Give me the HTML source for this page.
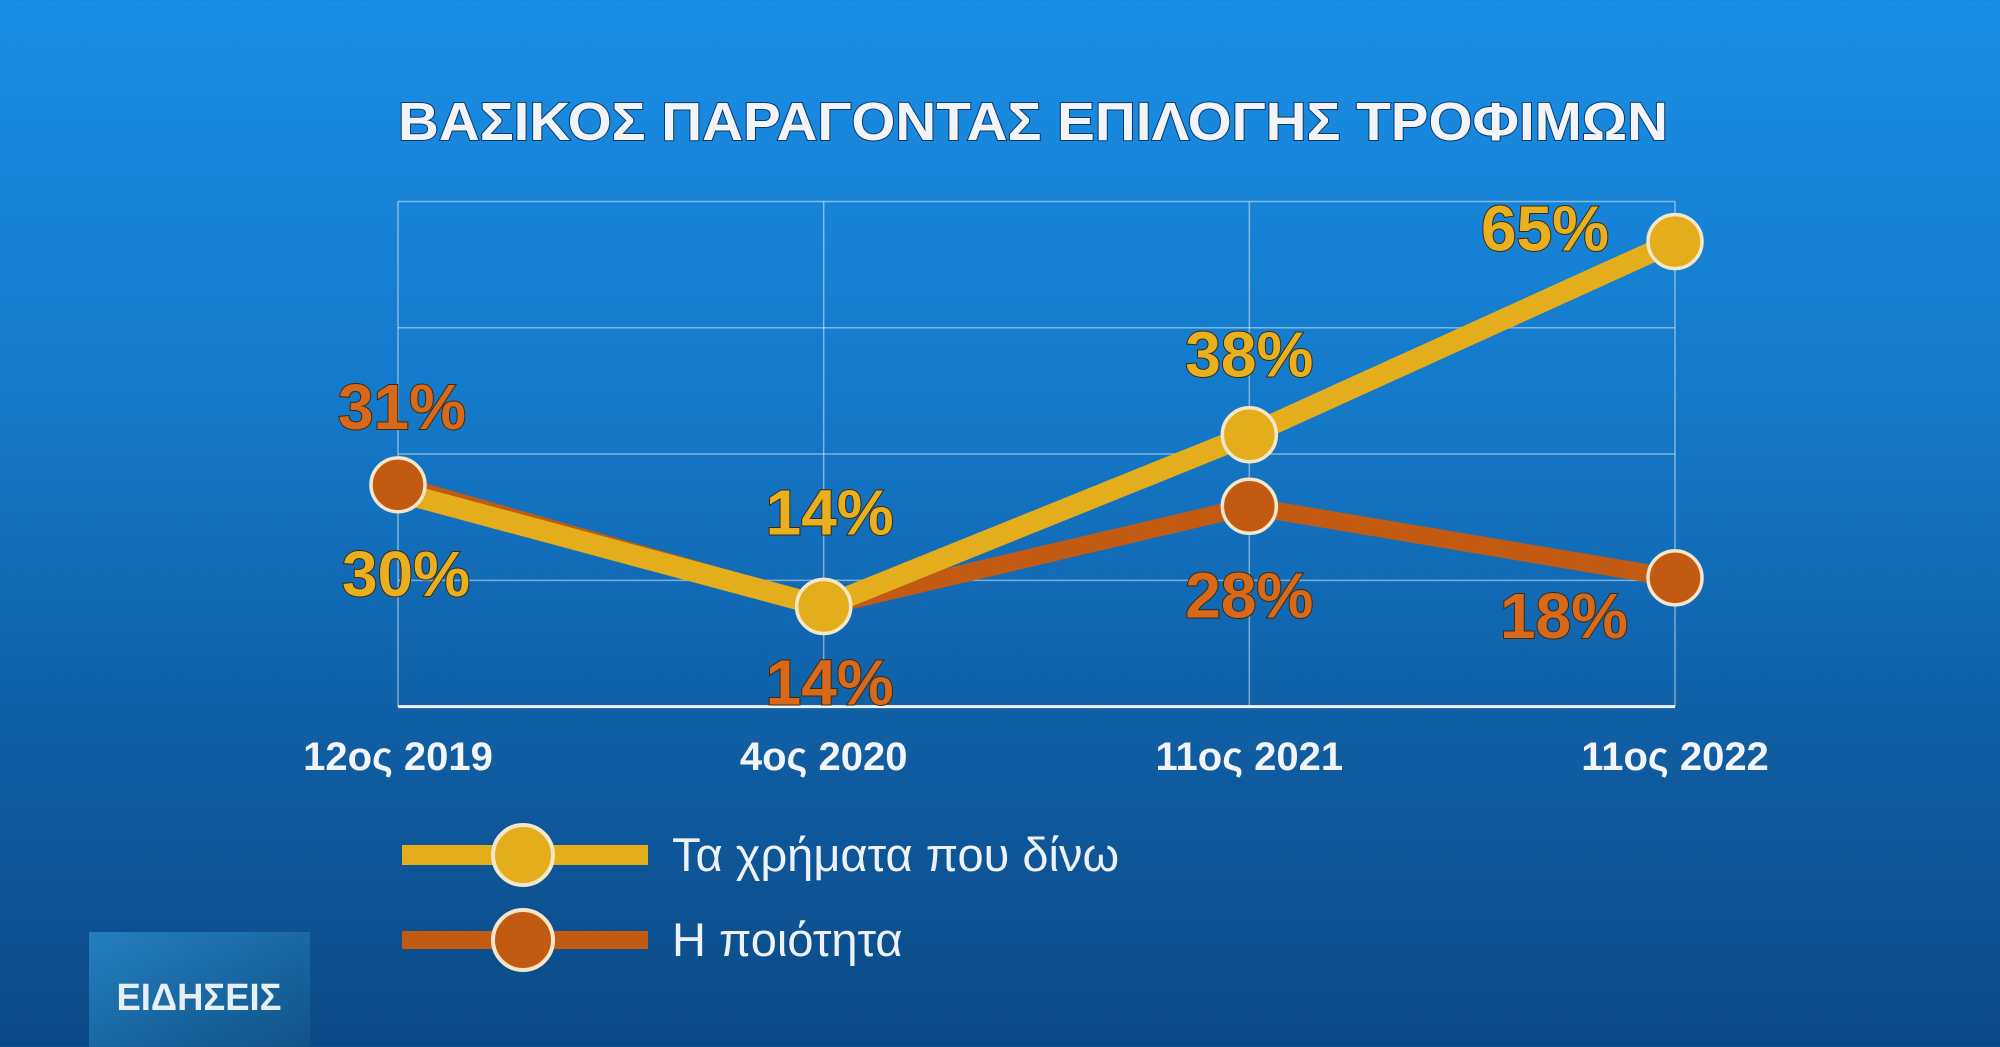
<!DOCTYPE html>
<html><head><meta charset="utf-8"><style>
html,body{margin:0;padding:0;width:2000px;height:1047px;overflow:hidden}
body{background:linear-gradient(180deg,#1a8fe6 0%,#1478c8 40%,#0f5a9e 75%,#0c4a86 100%);font-family:"Liberation Sans","DejaVu Sans",sans-serif}
</style></head><body>
<svg width="2000" height="1047" id="svg">
<text x="1033" y="140" text-anchor="middle" font-size="54" font-weight="bold" fill="#f2f4f8" textLength="1270" lengthAdjust="spacingAndGlyphs" style="paint-order:stroke" stroke="#0a3a70" stroke-width="2">ΒΑΣΙΚΟΣ ΠΑΡΑΓΟΝΤΑΣ  ΕΠΙΛΟΓΗΣ ΤΡΟΦΙΜΩΝ</text>
<g id="grid"></g><g id="lines"></g><g id="labels"></g>
<g>
<g>
<rect x="402" y="845" width="246" height="20" fill="#e4ad1c"/>
<circle cx="523" cy="855" r="30" fill="#e4ad1c" stroke="#f4e6c8" stroke-width="4"/>
<text x="672" y="871" font-size="47" fill="#eef2f8">Τα χρήματα που δίνω</text></g>
<g>
<rect x="402" y="931" width="246" height="18" fill="#c25a12"/>
<circle cx="523" cy="940" r="30" fill="#c25a12" stroke="#f4e6c8" stroke-width="4"/>
<text x="672" y="956" font-size="47" fill="#eef2f8">Η ποιότητα</text></g>
</g>
<g>
<rect x="89" y="932" width="221" height="115" fill="#1b6fae"/>
<rect x="89" y="932" width="221" height="115" fill="url(#lg)"/>
<text x="199" y="1010" text-anchor="middle" font-size="38" font-weight="bold" fill="#e6eef6" textLength="165" lengthAdjust="spacingAndGlyphs">ΕΙΔΗΣΕΙΣ</text>
</g>
<defs><linearGradient id="lg" x1="0" y1="0" x2="1" y2="1"><stop offset="0" stop-color="#2a8ac8" stop-opacity="0.6"/><stop offset="1" stop-color="#0a3f70" stop-opacity="0.6"/></linearGradient></defs>
</svg>
<script>
const categories=["12ος 2019","4ος 2020","11ος 2021","11ος 2022"];
const moneyValues=[30,14,38,65];
const qualityValues=[31,14,28,18];
const moneyLabels=["30%","14%","38%","65%"];
const qualityLabels=["31%","14%","28%","18%"];
const yMax=70.6;
const NS="http://www.w3.org/2000/svg";
const L=398,R=1675,T=201.5,B=706.6;
const xs=i=>L+i*(R-L)/(categories.length-1);
const ys=v=>B-v/yMax*(B-T);
function mk(tag,attrs,parent){const e=document.createElementNS(NS,tag);for(const k in attrs)e.setAttribute(k,attrs[k]);document.getElementById(parent).appendChild(e);return e;}
const g='grid';
for(let k=1;k<=4;k++){const y=B-k*(B-T)/4;
const e=mk('line',{x1:L,x2:R,y1:y,y2:y,stroke:'rgba(255,255,255,0.45)','stroke-width':1.5},g);

}
categories.forEach((c,i)=>{
const e=mk('line',{x1:xs(i),x2:xs(i),y1:T,y2:B,stroke:'rgba(255,255,255,0.45)','stroke-width':1.5},g);


const t=mk('text',{x:xs(i),y:770,'text-anchor':'middle','font-size':40,'font-weight':'bold',fill:'#f2f4f8'},g);
t.textContent=c;

});
const ax=mk('line',{x1:L,x2:R,y1:B,y2:B,stroke:'#f2f4f8','stroke-width':3},g);


function series(vals,color,w,name){
const p=mk('polyline',{points:vals.map((v,i)=>xs(i)+','+ys(v)).join(' '),fill:'none',stroke:color,'stroke-width':w,'stroke-linejoin':'miter'},'lines');

}
function marker(v,i,color,name){
const c=mk('circle',{cx:xs(i),cy:ys(v),r:27,fill:color,stroke:'#f4e6c8','stroke-width':3.5},'lines');

}
series(qualityValues,'#c25a12',18,'quality');
series(moneyValues,'#e4ad1c',21,'money');
moneyValues.forEach((v,i)=>{ if(Math.abs(qualityValues[i]-v)>3) marker(v,i,'#e4ad1c','money'); });
qualityValues.forEach((v,i)=>marker(v,i,'#c25a12','quality'));
moneyValues.forEach((v,i)=>{ if(qualityValues[i]===v) marker(v,i,'#e4ad1c','money'); });
const moneyOff=[[8,82],[6,-94],[0,-80],[-130,-13]];
const qualityOff=[[4,-78],[6,76],[0,89],[-111,38]];
function labels(vals,txt,off,color,name){vals.forEach((v,i)=>{
const t=mk('text',{x:xs(i)+off[i][0],y:ys(v)+off[i][1]+22,'text-anchor':'middle','font-size':64,'font-weight':'bold',fill:color,stroke:'#3a2a10','stroke-width':2,'paint-order':'stroke'},'labels');
t.textContent=txt[i];

});}
labels(moneyValues,moneyLabels,moneyOff,'#e8b020','money');
labels(qualityValues,qualityLabels,qualityOff,'#d8691a','quality');
</script>
</body></html>
